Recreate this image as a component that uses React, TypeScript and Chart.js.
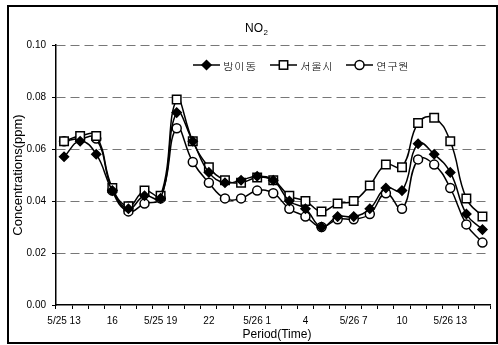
import React, { useEffect, useRef } from "react";
import { Chart, registerables } from "chart.js";

Chart.register(...registerables);

// ---- data ----
const categories = [
  "5/25 13", "5/25 14", "5/25 15", "5/25 16", "5/25 17", "5/25 18", "5/25 19",
  "5/25 20", "5/25 21", "5/25 22", "5/25 23", "5/26 0", "5/26 1", "5/26 2",
  "5/26 3", "5/26 4", "5/26 5", "5/26 6", "5/26 7", "5/26 8", "5/26 9",
  "5/26 10", "5/26 11", "5/26 12", "5/26 13", "5/26 14", "5/26 15",
];
const tickLabels = [
  "5/25 13", "", "", "16", "", "", "5/25 19", "", "", "22", "", "", "5/26 1", "",
  "", "4", "", "", "5/26 7", "", "", "10", "", "", "5/26 13", "", "",
];
const seriesNames = ["방이동", "서울시", "연구원"];
const bangidong = [
  0.057, 0.063, 0.058, 0.044, 0.037, 0.042, 0.041, 0.074, 0.063, 0.051, 0.047,
  0.048, 0.0495, 0.048, 0.040, 0.037, 0.030, 0.034, 0.034, 0.037, 0.045, 0.044,
  0.062, 0.058, 0.051, 0.035, 0.029,
];
const seoul = [
  0.063, 0.065, 0.065, 0.045, 0.038, 0.044, 0.042, 0.079, 0.063, 0.053, 0.048,
  0.047, 0.049, 0.048, 0.042, 0.040, 0.036, 0.039, 0.040, 0.046, 0.054, 0.053,
  0.070, 0.072, 0.063, 0.041, 0.034,
];
const yeonguwon = [
  0.063, 0.064, 0.064, 0.044, 0.036, 0.039, 0.041, 0.068, 0.055, 0.047, 0.041,
  0.041, 0.044, 0.043, 0.037, 0.034, 0.030, 0.033, 0.033, 0.035, 0.043, 0.037,
  0.056, 0.054, 0.045, 0.031, 0.024,
];
const yTicks = [0, 0.02, 0.04, 0.06, 0.08, 0.1];

const FONT = "Arial, 'Liberation Sans', Helvetica, sans-serif";
const KFONT = "Gulim, Dotum, 'Noto Sans CJK KR', sans-serif";

function drawMarker(ctx: CanvasRenderingContext2D, kind: string, x: number, y: number) {
  ctx.lineWidth = 1.5;
  ctx.strokeStyle = "#000";
  if (kind === "diamond") {
    ctx.fillStyle = "#000";
    ctx.beginPath();
    ctx.moveTo(x, y - 4.5);
    ctx.lineTo(x + 4.5, y);
    ctx.lineTo(x, y + 4.5);
    ctx.lineTo(x - 4.5, y);
    ctx.closePath();
    ctx.fill();
    ctx.stroke();
  } else if (kind === "square") {
    ctx.fillStyle = "#fff";
    ctx.fillRect(x - 4.2, y - 4.2, 8.4, 8.4);
    ctx.strokeRect(x - 4.2, y - 4.2, 8.4, 8.4);
  } else {
    ctx.fillStyle = "#fff";
    ctx.beginPath();
    ctx.arc(x, y, 4.5, 0, Math.PI * 2);
    ctx.fill();
    ctx.stroke();
  }
}

const decorPlugin = {
  id: "decor",
  afterDraw(chart: any) {
    const ctx: CanvasRenderingContext2D = chart.ctx;
    ctx.save();
    // outer frame
    ctx.strokeStyle = "#000";
    ctx.lineWidth = 2;
    ctx.strokeRect(8, 6, 489, 337);

    // title NO2
    ctx.fillStyle = "#000";
    ctx.textAlign = "left";
    ctx.textBaseline = "alphabetic";
    ctx.font = `12px ${FONT}`;
    ctx.fillText("NO", 245, 32);
    const w = ctx.measureText("NO").width;
    ctx.font = `8px ${FONT}`;
    ctx.fillText("2", 245 + w + 0.5, 35);

    // legend
    const kinds = ["diamond", "square", "circle"];
    const starts = [193, 270, 346];
    const ly = 65;
    for (let i = 0; i < 3; i++) {
      const x0 = starts[i];
      ctx.strokeStyle = "#000";
      ctx.lineWidth = 1.5;
      ctx.beginPath();
      ctx.moveTo(x0, ly);
      ctx.lineTo(x0 + 27, ly);
      ctx.stroke();
      drawMarker(ctx, kinds[i], x0 + 13.5, ly);
      ctx.fillStyle = "#000";
      ctx.font = `11px ${KFONT}`;
      ctx.textAlign = "left";
      ctx.textBaseline = "middle";
      ctx.fillText(seriesNames[i], x0 + 30, ly + 0.5);
    }

    // axis titles
    ctx.fillStyle = "#000";
    ctx.textAlign = "center";
    ctx.textBaseline = "middle";
    ctx.font = `12px ${FONT}`;
    ctx.fillText("Period(Time)", 277, 335);
    ctx.save();
    ctx.translate(18, 175);
    ctx.rotate(-Math.PI / 2);
    ctx.font = `13px ${FONT}`;
    ctx.fillText("Concentrations(ppm)", 0, 0);
    ctx.restore();
    ctx.restore();
  },
};

export default function App() {
  const canvasRef = useRef<HTMLCanvasElement | null>(null);

  useEffect(() => {
    if (!canvasRef.current) return;
    const common = {
      borderColor: "#000",
      borderWidth: 1.5,
      tension: 0.45,
      pointBorderColor: "#000",
      pointBorderWidth: 1.5,
      fill: false,
    };
    const chart = new Chart(canvasRef.current, {
      type: "line",
      data: {
        labels: categories,
        datasets: [
          {
            ...common,
            label: seriesNames[0],
            data: bangidong,
            pointStyle: "rectRot",
            pointRadius: 4.5,
            pointBackgroundColor: "#000",
          },
          {
            ...common,
            label: seriesNames[1],
            data: seoul,
            pointStyle: "rect",
            pointRadius: 6,
            pointBackgroundColor: "#fff",
          },
          {
            ...common,
            label: seriesNames[2],
            data: yeonguwon,
            pointStyle: "circle",
            pointRadius: 4.5,
            pointBackgroundColor: "#fff",
          },
        ],
      },
      options: {
        animation: false,
        responsive: false,
        maintainAspectRatio: false,
        layout: { padding: { top: 45, left: 0, right: 0, bottom: 0 } },
        plugins: {
          legend: { display: false },
          title: { display: false },
          tooltip: { enabled: false },
        },
        scales: {
          x: {
            type: "category",
            offset: true,
            grid: {
              offset: true,
              drawOnChartArea: false,
              color: "#000",
              tickLength: 4,
              lineWidth: 1,
            },
            border: { color: "#000", width: 1.5 },
            ticks: {
              autoSkip: false,
              maxRotation: 0,
              minRotation: 0,
              padding: 6,
              color: "#000",
              font: { family: FONT, size: 10 },
              callback: (_v: any, i: number) => tickLabels[i],
            },
            afterFit: (s: any) => {
              s.height = 40;
            },
          },
          y: {
            min: yTicks[0],
            max: yTicks[yTicks.length - 1],
            afterBuildTicks: (s: any) => {
              s.ticks = yTicks.map((v) => ({ value: v }));
            },
            ticks: {
              padding: 6,
              color: "#000",
              font: { family: FONT, size: 10 },
              callback: (v: any) => Number(v).toFixed(2),
            },
            grid: {
              color: (c: any) =>
                c.tick && c.tick.value === 0 ? "rgba(0,0,0,0)" : "#777",
              tickColor: "#000",
              tickLength: 4,
              lineWidth: 1,
            },
            border: { color: "#000", width: 1.5, dash: [9, 5] },
            afterFit: (s: any) => {
              s.width = 56;
            },
          },
        },
      },
      plugins: [decorPlugin],
    } as any);
    return () => chart.destroy();
  }, []);

  return (
    <div style={{ position: "fixed", left: 0, top: 0, width: 498, height: 345, background: "#fff" }}>
      <canvas ref={canvasRef} width={498} height={345} style={{ display: "block" }} />
    </div>
  );
}
